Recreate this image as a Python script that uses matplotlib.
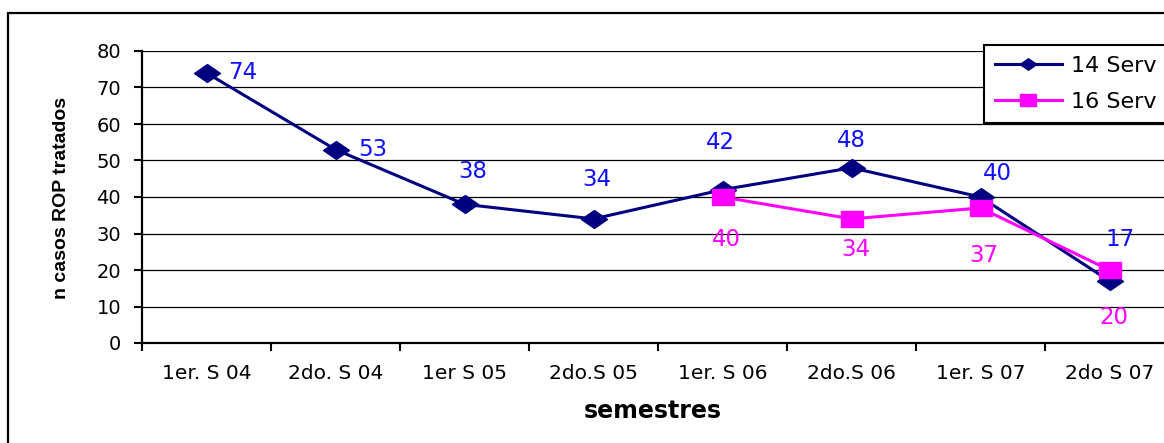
import matplotlib
matplotlib.use("Agg")
import matplotlib.pyplot as plt
import numpy as np
from matplotlib.patches import Rectangle
from matplotlib.lines import Line2D

# data
semestres = ['1er. S 04', '2do. S 04', '1er S 05', '2do.S 05',
             '1er. S 06', '2do.S 06', '1er. S 07', '2do S 07']
serv14 = [74, 53, 38, 34, 42, 48, 40, 17]
serv16 = [np.nan, np.nan, np.nan, np.nan, 40, 34, 37, 20]

# label offsets (pixels) as placed in the original
off14 = [(36, 0), (37, 0), (8, 33), (3, 39), (-2, 47), (0, 27), (17, 23), (11, 41)]
off16 = [(4, -42), (4, -31), (3, -48), (4, -48)]

W, H = 1164, 443
fig = plt.figure(figsize=(W / 100, H / 100), dpi=100)
ax = fig.add_axes([142 / W, 100 / H, 1032 / W, 292 / H])

diamond = [(-1, 0), (0, 0.69), (1, 0), (0, -0.69), (-1, 0)]
rect = [(-1, -0.74), (1, -0.74), (1, 0.74), (-1, 0.74), (-1, -0.74)]

x = np.arange(len(semestres))
ax.plot(x, serv14, color='#000080', lw=2.2, marker=diamond, ms=18.7,
        mec='#000080', mfc='#000080', zorder=3)
ax.plot(x, serv16, color='#ff00ff', lw=2.2, marker=rect, ms=16.5,
        mec='#ff00ff', mfc='#ff00ff', zorder=4)

px = 0.72
for xi, v, (dx, dy) in zip(x, serv14, off14):
    ax.annotate(str(v), (xi, v), xytext=(dx * px, dy * px), textcoords='offset points',
                ha='center', va='center', color='#1010ff', fontsize=16.5,
                family='DejaVu Sans', zorder=5)
k = 0
for xi, v in zip(x, serv16):
    if np.isnan(v):
        continue
    dx, dy = off16[k]
    k += 1
    ax.annotate(str(int(v)), (xi, v), xytext=(dx * px, dy * px), textcoords='offset points',
                ha='center', va='center', color='#ff00ff', fontsize=16.5,
                family='DejaVu Sans', zorder=5)

ax.set_xlim(-0.5, 7.5)
ax.set_ylim(0, 80)
ax.set_yticks(np.arange(0, 81, 10))
ax.yaxis.grid(True, color='black', lw=0.9)
ax.set_axisbelow(True)

ax.set_xticks(np.arange(-0.5, 8, 1))
ax.set_xticklabels([])
ax.set_xticks(x, minor=True)
ax.set_xticklabels(semestres, minor=True, fontsize=14.5, family='DejaVu Sans')
ax.tick_params(axis='x', which='major', length=6, width=1.5, direction='out')
ax.tick_params(axis='x', which='minor', length=0, pad=15)
ax.tick_params(axis='y', length=6, width=1.5, pad=9, labelsize=14)
for lab in ax.get_yticklabels():
    lab.set_family('DejaVu Sans')

for s in ['top', 'right']:
    ax.spines[s].set_visible(False)
ax.spines['left'].set_linewidth(1.6)
ax.spines['bottom'].set_linewidth(1.6)

fig.text(61 / W, 1 - 198 / H, 'n casos ROP tratados', rotation=90, ha='center', va='center',
         fontsize=14, fontweight='bold', family='Liberation Sans')
fig.text(653 / W, 1 - 411 / H, 'semestres', ha='center', va='center',
         fontsize=17, fontweight='bold', family='DejaVu Sans')

handles = [Line2D([], [], color='#000080', lw=2.2, marker=diamond, ms=12),
           Line2D([], [], color='#ff00ff', lw=2.2, marker=rect, ms=11)]
leg = fig.legend(handles, ['14 Serv', '16 Serv'], loc='upper left',
                 bbox_to_anchor=(984 / W, 1 - 45 / H), borderaxespad=0,
                 prop={'family': 'DejaVu Sans', 'size': 16}, fancybox=False,
                 edgecolor='black', framealpha=1, handlelength=3.0,
                 handletextpad=0.4, labelspacing=0.72, borderpad=0.5)
leg.get_frame().set_linewidth(1.5)

fig.patches.append(Rectangle((8 / W, -0.1), 1.2, (H - 13) / H + 0.1, fill=False,
                             ec='black', lw=1.6, transform=fig.transFigure, figure=fig))

fig.savefig('out.png', dpi=100)
